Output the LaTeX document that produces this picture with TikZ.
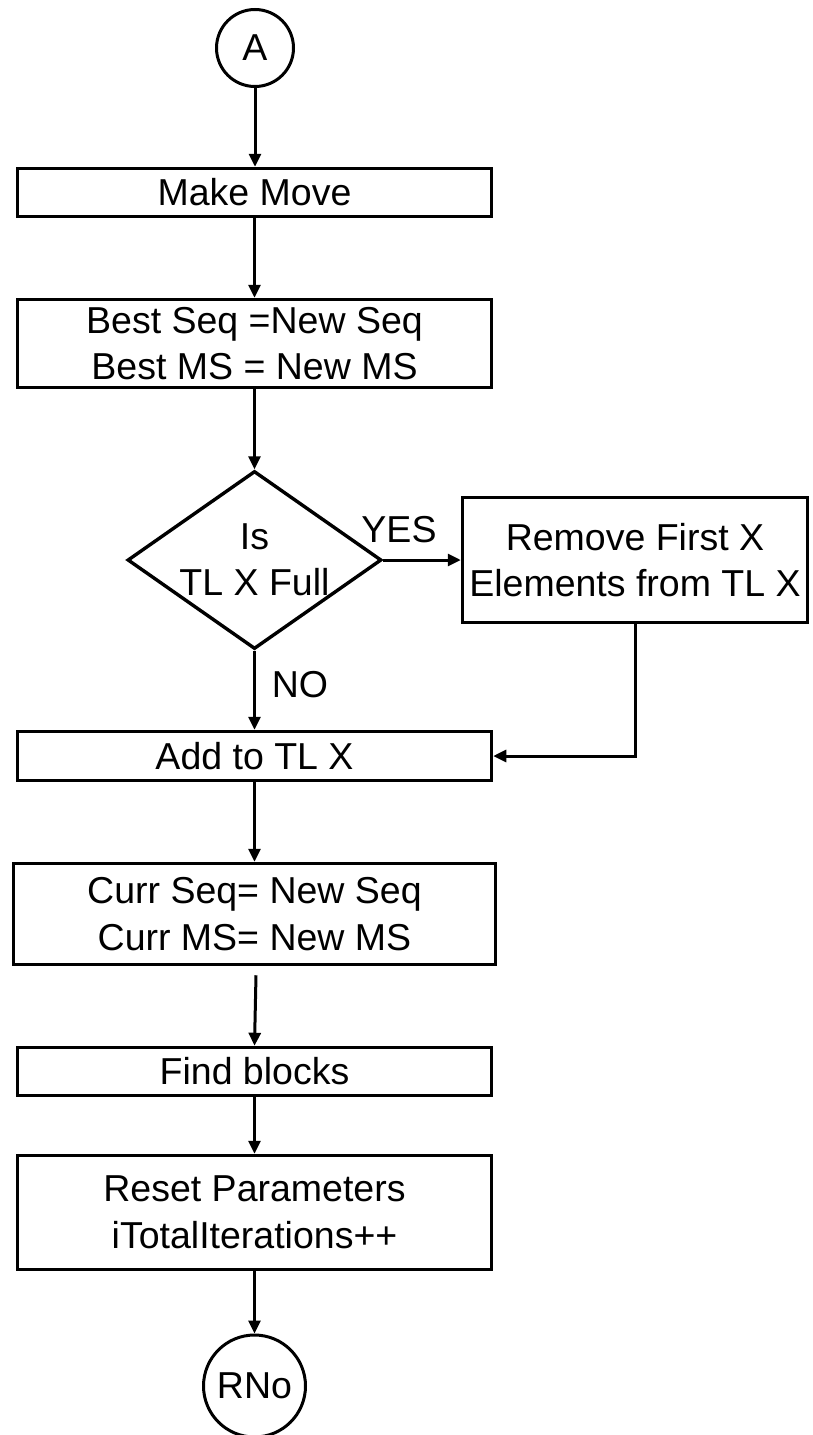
\documentclass[tikz,border=0pt]{standalone}
\usepackage{fontspec}
\setmainfont{Liberation Sans}
\usetikzlibrary{shapes.geometric,arrows.meta,calc}

\begin{document}
\begin{tikzpicture}[x=1pt,y=-1pt,
  every node/.style={font=\fontsize{37.5}{46.5}\selectfont, inner sep=0pt},
  box/.style={draw, line width=3.5pt, align=center, minimum width=474pt},
  conn/.style={draw, circle, line width=3pt},
  decision/.style={draw, diamond, line width=3.4pt},
  arr/.style={line width=3pt, -{Triangle[length=13pt,width=12pt]}},
  lbl/.style={align=center}
]
\useasboundingbox (0,0) rectangle (812,1435);

% terminals
\node[conn, minimum size=77pt] (a) at (255,48) {A};
\node[conn, minimum size=102pt] (rno) at (254.5,1386) {RNo};

% process boxes
\node[box, minimum height=48pt] (make) at (254.5,192.5) {Make Move};
\node[box, minimum height=88pt] (best) at (254.5,343.5) {Best Seq =New Seq\\Best MS = New MS};
\node[decision, minimum width=254pt, minimum height=178pt] (dec) at (254.5,560) {};
\node[lbl] (dectext) at (dec.center) {Is\\TL X Full};
\node[box, minimum width=345pt, minimum height=125pt] (remove) at (635,560) {Remove First X\\Elements from TL X};
\node[box, minimum height=49pt] (add) at (254.5,756) {Add to TL X};
\node[box, minimum width=482pt, minimum height=101pt] (curr) at (254.5,914) {Curr Seq= New Seq\\Curr MS= New MS};
\node[box, minimum height=48pt] (find) at (254.5,1071.5) {Find blocks};
\node[box, minimum height=114pt] (reset) at (254.5,1212.5) {Reset Parameters\\iTotalIterations++};

% branch labels
\node (yes) at (399,530) {YES};
\node (no) at (300,685) {NO};

% connectors
\draw[arr] (a.south) -- (a.south |- make.north);
\draw[arr] (make.south) -- (best.north);
\draw[arr] (best.south) -- (dec.north);
\draw[arr] (dec.east) -- (remove.west);
\draw[arr] (dec.south) -- (add.north);
\draw[arr] (remove.south) |- (add.east);
\draw[arr] (add.south) -- (curr.north);
\coordinate (cfrom) at ($(curr.south)+(1.5,9)$);
\draw[arr] (cfrom) -- (find.north);
\draw[arr] (find.south) -- (reset.north);
\draw[arr] (reset.south) -- (rno.north);
\end{tikzpicture}
\end{document}
